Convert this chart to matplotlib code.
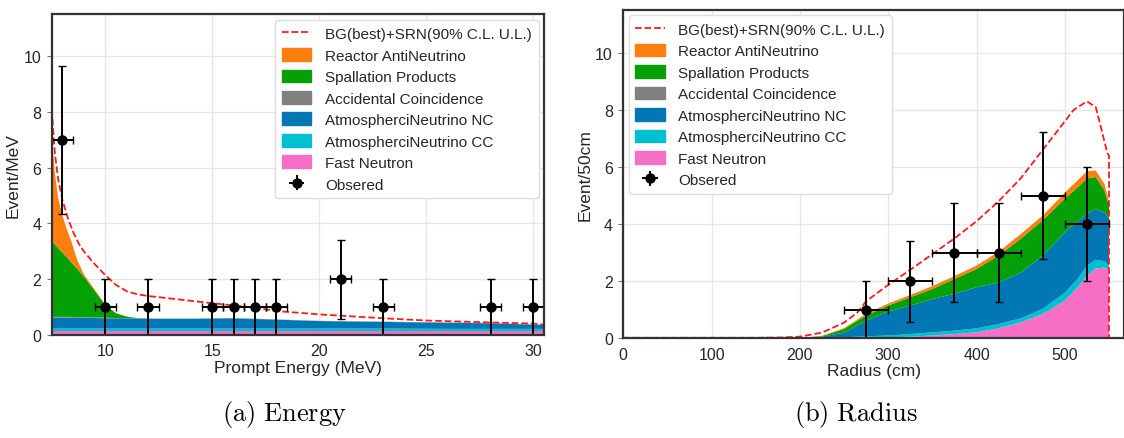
import numpy as np
import matplotlib.pyplot as plt
from matplotlib.patches import Patch
from matplotlib.lines import Line2D

plt.rcParams['font.family'] = ['Liberation Sans', 'DejaVu Sans']
plt.rcParams['mathtext.fontset'] = 'cm'

# ---- (a) prompt energy spectrum ----
energy = [7.5, 7.65, 7.8, 8.0, 8.2, 8.4, 8.7, 9.0, 9.5, 10.0, 10.5, 11.0,
          11.5, 12.5, 14, 16, 18, 20, 23, 26, 28, 30.5]
e_fast = [0.14, 0.14, 0.14, 0.14, 0.14, 0.14, 0.14, 0.14, 0.14, 0.14, 0.14,
          0.14, 0.14, 0.14, 0.14, 0.14, 0.14, 0.14, 0.14, 0.14, 0.14, 0.14]
e_cc = [0.09, 0.09, 0.09, 0.09, 0.09, 0.09, 0.09, 0.09, 0.09, 0.09, 0.09,
        0.09, 0.09, 0.09, 0.09, 0.09, 0.09, 0.09, 0.09, 0.08, 0.08, 0.08]
e_nc = [0.39, 0.39, 0.39, 0.39, 0.39, 0.39, 0.39, 0.39, 0.38, 0.37, 0.37,
        0.37, 0.36, 0.35, 0.35, 0.37, 0.32, 0.27, 0.24, 0.22, 0.20, 0.14]
e_acc = [0.03, 0.03, 0.03, 0.03, 0.03, 0.03, 0.02, 0.02, 0.02, 0.02, 0.01,
         0.01, 0.01, 0.01, 0.01, 0.01, 0.01, 0.01, 0.01, 0.01, 0.01, 0.01]
e_spall = [2.73, 2.60, 2.47, 2.31, 2.15, 1.97, 1.74, 1.46, 0.97, 0.46, 0.17,
           0.05, 0.01, 0, 0, 0, 0, 0, 0, 0, 0, 0]
e_reactor = [3.80, 2.55, 1.80, 1.34, 1.00, 0.78, 0.30, 0.08, 0.04, 0.02, 0.01,
             0, 0, 0, 0, 0, 0, 0, 0, 0, 0, 0]

e_ul_x = [7.5, 7.65, 7.8, 8.0, 8.25, 8.5, 8.75, 9.0, 9.5, 10.0, 10.5, 11.0,
          11.5, 12, 15, 17, 18, 20, 23, 25, 28, 30, 30.5]
e_ul_y = [8.1, 6.5, 5.6, 4.85, 4.2, 3.7, 3.3, 3.0, 2.55, 2.15, 1.8, 1.57,
          1.46, 1.4, 1.14, 0.98, 0.86, 0.74, 0.6, 0.52, 0.45, 0.41, 0.37]

e_obs_x = [8, 10, 12, 15, 16, 17, 18, 21, 23, 28, 30]
e_obs_n = [7, 1, 1, 1, 1, 1, 1, 2, 1, 1, 1]

# ---- (b) radius distribution ----
radius = [0, 150, 200, 225, 250, 275, 300, 325, 350, 375, 400, 425, 450, 475,
          500, 515, 525, 535, 545, 550]
r_fast = [0, 0, 0, 0, 0, 0.01, 0.03, 0.06, 0.10, 0.15, 0.21, 0.35, 0.56, 0.85,
          1.32, 1.80, 2.20, 2.45, 2.48, 2.40]
r_cc = [0, 0, 0, 0.01, 0.04, 0.06, 0.07, 0.09, 0.11, 0.12, 0.14, 0.15, 0.14,
        0.18, 0.28, 0.30, 0.35, 0.30, 0.22, 0.15]
r_nc = [0, 0, 0.01, 0.05, 0.16, 0.55, 0.84, 1.00, 1.17, 1.29, 1.44, 1.46, 1.60,
        1.87, 2.12, 2.00, 1.81, 1.79, 1.70, 1.65]
r_acc = [0, 0, 0, 0, 0, 0, 0, 0, 0, 0, 0, 0, 0, 0, 0, 0, 0, 0, 0, 0]
r_spall = [0, 0, 0, 0.02, 0.13, 0.18, 0.21, 0.29, 0.35, 0.52, 0.64, 0.94, 1.19,
           1.23, 1.17, 1.20, 1.24, 1.11, 0.78, 0.45]
r_reactor = [0, 0, 0, 0.01, 0.03, 0.06, 0.07, 0.08, 0.10, 0.10, 0.12, 0.13,
             0.16, 0.17, 0.21, 0.25, 0.25, 0.23, 0.22, 0.15]

r_ul_x = [0, 150, 180, 200, 225, 250, 265, 275, 300, 325, 350, 375, 400, 425,
          450, 475, 500, 510, 525, 535, 540, 548, 550, 550]
r_ul_y = [0.02, 0.02, 0.03, 0.06, 0.2, 0.55, 0.9, 1.3, 1.87, 2.4, 2.95, 3.5,
          4.1, 4.8, 5.6, 6.6, 7.6, 8.0, 8.3, 8.1, 7.5, 6.5, 6.4, 0]

r_obs_x = [275, 325, 375, 425, 475, 525]
r_obs_n = [1, 2, 3, 3, 5, 4]

labels = ['Fast Neutron', 'AtmospherciNeutrino CC', 'AtmospherciNeutrino NC',
          'Accidental Coincidence', 'Spallation Products', 'Reactor AntiNeutrino']
colors = ['#f76ec7', '#00bfd0', '#0178b4', '#808080', '#05a005', '#ff7f0e']
ul_label = 'BG(best)+SRN(90% C.L. U.L.)'


def style_axes(ax):
    ax.set_facecolor('white')
    ax.grid(True, color='#e6e6e6', lw=1.0)
    ax.set_axisbelow(True)
    for sp in ax.spines.values():
        sp.set_color('#333333')
        sp.set_linewidth(1.6)
        sp.set_zorder(10)
    ax.tick_params(axis='x', length=0, pad=6, labelsize=11.5, labelcolor='#262626')
    ax.tick_params(axis='y', length=3.5, width=0.8, color='#777777', pad=4,
                   labelsize=11.5, labelcolor='#262626')


def draw_panel(ax, x, layers, ul_x, ul_y, obs_x, obs_n, xerr):
    ax.stackplot(x, *layers, colors=colors, lw=0)
    ax.plot(ul_x, ul_y, ls='--', color='#ff1a1a', lw=1.3, zorder=4)
    ax.errorbar(obs_x, obs_n, xerr=xerr, yerr=np.sqrt(obs_n), fmt='o',
                color='black', ms=6.5, elinewidth=1.4, capsize=3, capthick=1.0,
                zorder=5)
    handles = [Line2D([], [], ls='--', color='#ff1a1a', lw=1.3)]
    for c in colors[::-1]:
        handles.append(Patch(facecolor=c, edgecolor=c))
    handles.append(ax.errorbar([], [], xerr=[], yerr=[], fmt='o', color='black',
                               ms=6.5, elinewidth=1.4, capsize=3))
    names = [ul_label] + labels[::-1] + ['Obsered']
    return handles, names


def add_legend(ax, h, n, loc):
    ax.legend(h, n, loc=loc, fontsize=11, frameon=True, framealpha=1,
              edgecolor='#dddddd', handlelength=1.9, handleheight=0.9,
              labelspacing=0.45, borderaxespad=0.35, handletextpad=0.9,
              borderpad=0.45, labelcolor='#262626')


fig = plt.figure(figsize=(11.24, 4.39), dpi=100)

ax1 = fig.add_axes([0.046, 0.2346, 0.438, 0.7305])
style_axes(ax1)
h, n = draw_panel(ax1, energy, [e_fast, e_cc, e_nc, e_acc, e_spall, e_reactor],
                  e_ul_x, e_ul_y, e_obs_x, e_obs_n, 0.5)
ax1.set_xlim(7.5, 30.5)
ax1.set_ylim(0, 11.5)
ax1.set_xticks([10, 15, 20, 25, 30])
ax1.set_yticks([0, 2, 4, 6, 8, 10])
ax1.set_xlabel('Prompt Energy (MeV)', fontsize=12.5, color='#262626', labelpad=1)
ax1.set_ylabel('Event/MeV', fontsize=12.5, color='#262626', labelpad=2)
add_legend(ax1, h, n, 'upper right')

ax2 = fig.add_axes([0.5545, 0.227, 0.4455, 0.748])
style_axes(ax2)
h, n = draw_panel(ax2, radius, [r_fast, r_cc, r_nc, r_acc, r_spall, r_reactor],
                  r_ul_x, r_ul_y, r_obs_x, r_obs_n, 25)
ax2.set_xlim(0, 567)
ax2.set_ylim(0, 11.5)
ax2.set_xticks([0, 100, 200, 300, 400, 500])
ax2.set_yticks([0, 2, 4, 6, 8, 10])
ax2.set_xlabel('Radius (cm)', fontsize=12.5, color='#262626', labelpad=1)
ax2.set_ylabel('Event/50cm', fontsize=12.5, color='#262626', labelpad=2)
add_legend(ax2, h, n, 'upper left')

fig.text(0.2527, 0.055, r'$\mathrm{(a)\ Energy}$', fontsize=19, ha='center', va='center')
fig.text(0.761, 0.055, r'$\mathrm{(b)\ Radius}$', fontsize=19, ha='center', va='center')

fig.savefig('out.png', dpi=100)
